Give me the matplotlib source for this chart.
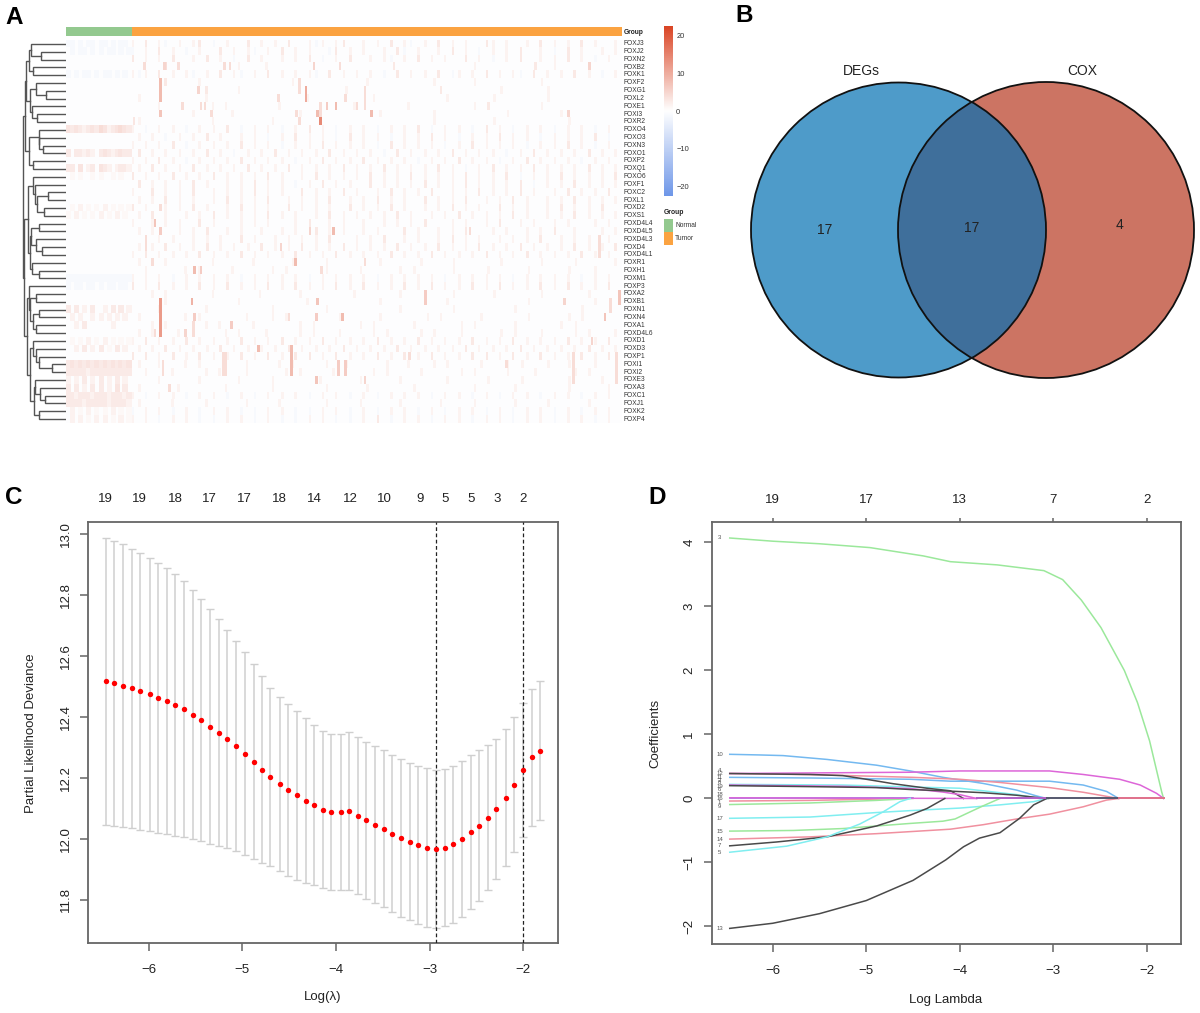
import numpy as np
import matplotlib
matplotlib.use('Agg')
import matplotlib.pyplot as plt
from matplotlib.colors import LinearSegmentedColormap
from matplotlib.patches import Circle, Rectangle

plt.rcParams['font.family'] = ['Liberation Sans', 'DejaVu Sans']

W, H = 1200, 1013

# ---- panel A data
genes = ['FOXJ3', 'FOXJ2', 'FOXN2', 'FOXB2', 'FOXK1', 'FOXF2', 'FOXG1', 'FOXL2', 'FOXE1', 'FOXI3',
         'FOXR2', 'FOXO4', 'FOXO3', 'FOXN3', 'FOXO1', 'FOXP2', 'FOXQ1', 'FOXO6', 'FOXF1', 'FOXC2',
         'FOXL1', 'FOXD2', 'FOXS1', 'FOXD4L4', 'FOXD4L5', 'FOXD4L3', 'FOXD4', 'FOXD4L1', 'FOXR1', 'FOXH1',
         'FOXM1', 'FOXP3', 'FOXA2', 'FOXB1', 'FOXN1', 'FOXN4', 'FOXA1', 'FOXD4L6', 'FOXD1', 'FOXD3',
         'FOXP1', 'FOXI1', 'FOXI2', 'FOXE3', 'FOXA3', 'FOXC1', 'FOXJ1', 'FOXK2', 'FOXP4']

# digit = shade of pink, b = pale blue, . = nothing
tumor_rows = [
    '1.2.1b.1.12.b.1..2.1.1.2..1b1.12..1.1.2.1b.1.2.1.1..21.1..1.2.1.1.2.1..1',
    'b.1.2.1.b.1..2.1.1b.1.2.1.1..b2.1.1..1.2b.1..1.2.1.b.1.1.2..1.b.2.1..1.1',
    '2.1.1.2..1.2.1.b.2.1..1.1.2.b.1.2..1.1b.1.2.1.1..2.1.b.1.2..1.1.2.1.b.1.',
    '.....3.3........1...1..........3.......2...........1........2..1....1....',
    '1b1.2.1.1b.1.2.1b.1.2.1.1.1b.2.1.1.1.b.2.1.1.2.b1.1.2.1.1b.2.1.1.2.1.b.1',
    '.....2....1.............1..........1.........1.....1.........1...........',
    '...........2....1...............1.............2........1......1..........',
    '.1.........1..............1.........1..........1......1.......1..........',
    '....1.......1.1.......1..........1.......1.........1.2.......1...........',
    '.........1.....1.........1...........1.......1..........1.......1........',
    '.1..........1........1.......................1........1..........1.......',
    '1.b.1.1.b.1.1.2.b.1.1.b.1.2.1.b.1.1.b.1.1.2.b.1.1.b.2.1.b.1.1.b.1.1.b.1.',
    '.1.1.b.1.1.2.1..1.1.b.1.2.1.1.b.2.1.1.b.1.1.2.1.b.1.1.2.1.1.b.1.1.1.2.b.',
    '1.1.1.2.b.1.1.1.2.1.1.b.1.1.2.1.1.1.b.2.1.1.1.b.1.2.1.1.1.b.1.1.2.1.b.1.',
    '.2.1.1.1.1.2.1.b.1.1.2.1.1.1.2.1.1.1.b.2.1.1.1.2.1.1.1.b.1.2.1.1.1.2.1.1',
    '1.1.2.1.b.1.1.1.2.1.1.1.b.1.2.1.1.2.1.1.1.b.1.1.2.1.1.b.1.2.1.1.1.b.1.1.',
    '.1.2.1.1.2.1.1.1.2.1.1.2.1.1.1.2.1.1.2.1.1.1.2.1.b.1.2.1.1.2.1.1.1.2.1.1',
    '2.1.1.2.1.1.2.1.1.1.2.1..1.2.1.1.1.2.1.1.2.1.1.1.2.1.1.2.b.1.1.2.1.1.1.2',
    '.2.1.1.1.2.1..1.1.2.1.1.b.1.2.1.1..2.1.1.1.2.1.1.2.1.1.1.2.b.1.1.2.1.1.1',
    '1..2.1.1.2..1.1.1.2.1.1..2.1.1.2.1..1.2.1.1.2..1.1.2.1.1.2.1..1.2.1.1.2.',
    '.1.1.2.1.1..1.2.1.1.2..1.1.1.2..1.1.2.1.1..2.1.1.2..1.1.2.1..1.1.2.1.1.1',
    '2.1..1.1.2.1..1.2.1.1..2.1.1.1..2.1.1.2.1..1.1.2.1.1..2.1.1..1.2.1.1.2..',
    '.1.2.1..1.1.2.1.1.1.2.1.1..1.2.1.1.1.1.2.1..1.1.2.1.1.1.2.1..1.1.2.1.1.1',
    '1..1.1.1..2.1...1.1.1...1.2..1.1..1..1.1.1.2...1.1..1.2..1.1..1.1...1.1.',
    '.1.1...1.1.2..1.1..1..1.1..2.1.1..1.1...2.1..1.1.2...1.1..1.1.2..1...1.1',
    '..2.1.1..1.1.1..2.1..1.1.1.1.2...1.1.2..1.1..1.2.1.1..1.1.1.2..1.1.1..1.',
    '.1.1.2.1.1.2.1.1.1.2.1.1.2.1.1.2.1.1.1.2.1.1.2.1.1.2.1.1.2.1.1.1.2.1.1.2',
    '1.2.1.1.1.2.1.1.2.1.1.1.2.1.1.2.1.1.1.2.1.1.2.1.1.1.2.1.1.2.1.1.1.2.1.1.',
    '.1...1......1.....1.....1....1.......1.....1....1......1.....1....1.....1',
    '..1.....1.1....1.....1.1.....1....1.....1.1.....1....1.....1.....1...1...',
    '1.1.1.b.1.1.1.1.b.1.1.1.1.b.1.1.1.1.b.1.1.1.1.b.1.1.1.1.b.1.1.1.1.b.1.1.',
    '2.1.2.1.1.2.1.2.1.1.2.1.2.1.1.2.1.2.1.1.2.1.2.1.1.2.1.2.1.1.2.1.2.1.1.2.',
    '...1.1......1......1.....1.......1......1.......1.....1......1......1....',
    '.....1..........1.........1..........1.........1...........1.........1...',
    '....1......1.........1.......1..........1.......1........1.........1.....',
    '.1......1.1......1...1.1.......1.....1......1.1.....1......1.....1.1.....',
    '...1.1.....1.1....1......1.1......1.1.....1......1.1.....1......1.1......',
    '.1.1...1.1....1.1...1....1.1...1....1.1....1.1...1.....1.1...1....1.1...1',
    '1.2.1.1.2.1.1.1.2.1.1.2.1.1.2.1.1.1.2.1.1.2.1.1.1.2.1.1.2.1.1.1.2.1.1.2.',
    '.1.1.2.1.1.1.2.1.1.1.1.2.1.1.1.2.1.1.1.2.1.1.1.1.2.1.1.1.2.1.1.1.1.2.1.1',
    '2.2.1.2.1.2.1.1.2.1.2.1.2.2.1.2.1.1.2.1.2.1.2.1.1.2.2.1.2.1.2.1.1.2.1.2.',
    '.1..1...1.1...1..1....1.1....1..1.....1..1...1.1....1...1.1...1..1...1...',
    '..1...1....1.1...1.....1.1....1.....1.1....1.....1.1....1...1.....1.1....',
    '....1.....1.....1....1......1.....1.....1......1.....1....1......1....1..',
    '.1.....1......1......1.......1.....1......1........1.....1.......1.....1.',
    '1.b.1.1.b.1.1.b.1.b.1.1.1.b.1.1.b.1.b.1.1.1.b.1.1.b.1.b.1.1.b.1.1.b.1.1.',
    '.1....1....1.....1....1......1....1.....1.....1....1.....1....1.....1....',
    'b.1.1.b.1.b.1.1.b.b.1.1.b.b.1.1.b.1.b.1.1.b.1.b.1.1.b.1.b.1.1.b.1.b.1.1.',
    '1.1.b.1.1.b.b.1.1.b.1.b.b.1.1.b.b.1.2.b.1.1.b.1.1.b.1.1.b.1.1.b.1.1.b.1.',
]

normal_rows = {
    0: 'bb.b.bb.bb.b.bb.', 1: '.b.bb.b.b.bb.b.b', 4: 'b.b.bb.b.bb.b.b.',
    11: '4343234354234543', 14: '3.33232.34323433', 16: '33.4.23.432.2332',
    17: '.1.1..1.1..1.1..', 21: '.1.2.1.1.2.1.1.1', 22: '1.2.1.1.2.1.2.1.',
    30: 'bbbbbbbbbbbbbbbb', 31: 'b.bb.bb.b.bb.bb.',
    34: '3.3.2.3..2.3.3.2', 35: '.2.2..2.2.2.2.2.', 36: '..2.3......2....',
    38: '.1.1.2.1.2.1.1.1', 39: '..2.3.2.3.1.3.2.',
    41: '3434343434343434', 42: '3333323333333333', 43: '2.2.3.2.3.2.3.2.',
    44: '3.3.2.3.3.2.4.3.', 45: '3323332333233323', 46: '3333233333233332',
    47: '.2.1.2.1.1.2.1.1', 48: '.2.2.1.2.2.1.2.1',
}

# first row, last row, sample, value
hot_streaks = [
    (3, 3, 59, 4), (3, 3, 74, 5), (3, 3, 120, 4), (3, 3, 124, 4), (3, 3, 188, 5), (3, 3, 398, 5),
    (5, 7, 71, 8), (6, 6, 100, 5), (5, 6, 177, 4), (6, 7, 182, 10), (7, 7, 161, 4), (7, 7, 212, 4),
    (6, 8, 227, 4), (8, 8, 88, 4), (8, 8, 102, 4), (8, 8, 105, 4), (8, 10, 193, 4), (8, 8, 198, 6),
    (8, 8, 205, 8), (8, 8, 221, 4), (9, 9, 71, 7), (9, 9, 110, 4), (9, 9, 175, 4), (9, 9, 191, 8),
    (9, 9, 232, 8), (10, 10, 193, 14), (10, 10, 51, 3), (10, 10, 177, 4), (9, 9, 382, 5),
    (21, 21, 71, 4), (23, 23, 67, 7), (24, 24, 71, 6), (24, 24, 185, 5), (24, 24, 203, 8),
    (25, 26, 60, 4), (26, 26, 163, 5), (28, 28, 174, 8), (28, 28, 65, 4), (28, 28, 227, 4),
    (29, 29, 97, 8), (29, 29, 102, 6), (29, 29, 194, 4), (33, 33, 95, 9), (33, 33, 191, 7),
    (33, 37, 71, 12), (35, 35, 97, 6), (35, 35, 169, 4), (35, 35, 190, 6), (35, 35, 210, 8),
    (36, 36, 125, 6), (36, 37, 96, 4), (37, 37, 67, 4), (37, 37, 90, 5), (39, 39, 146, 8),
    (39, 42, 171, 8), (41, 42, 207, 6), (41, 42, 212, 6), (40, 42, 121, 4), (40, 42, 119, 4),
    (41, 42, 73, 4), (43, 43, 190, 7), (43, 43, 227, 5), (44, 44, 78, 4),
    (32, 33, 421, 7), (33, 34, 414, 4), (35, 35, 410, 7), (33, 33, 379, 5), (40, 43, 386, 4),
    (40, 43, 419, 4), (38, 38, 400, 5), (25, 27, 406, 4), (32, 33, 273, 6), (41, 41, 335, 4),
    (24, 24, 307, 4), (40, 40, 261, 4),
]

# dendrogram merges: (height, left, right), ints are rows
tree_a = (40,
          (37, (35, 0, (25, 1, 2)), (33, 3, 4)),
          (36, (30, 5, (20, 6, 7)), (34, 8, (29, 9, 10))))
tree_b = (37, (27.5, 11, (26.5, 12, (23, 13, 14))), (33, 15, 16))
tree_c = (33, 17, (31, 18, (29, (18, 19, 20), (22, 21, 22))))
tree_d = (36,
          (35, (27.5, 23, 24), (30, 25, (24, 26, 27))),
          (34, 28, (26.7, 29, 30)))
tree_e = (37, 31, (36, (30, 32, 33), (33, (26.7, 34, 35), (30, 36, 37))))
tree_f = (36,
          (33, 38, (30, 39, (26.7, 40, (14, 41, 42)))),
          (32, (31, 43, (26, 44, (21, 45, 46))), (26.7, 47, 48)))
tree = (43.5,
        (41, tree_a, tree_b),
        (42, (38, tree_c, tree_d), (39, tree_e, tree_f)))

# ---- panel B data
venn_names = ['DEGs', 'COX']
venn_counts = [17, 17, 4]

# ---- panel C data
cv_log_lambda = [-6.46, -6.37, -6.27, -6.18, -6.09, -5.99, -5.90, -5.81, -5.72, -5.62,
                 -5.53, -5.44, -5.35, -5.25, -5.16, -5.07, -4.97, -4.88, -4.79, -4.70,
                 -4.60, -4.51, -4.42, -4.32, -4.23, -4.14, -4.05, -3.95, -3.86, -3.77,
                 -3.68, -3.58, -3.49, -3.40, -3.31, -3.21, -3.12, -3.03, -2.93, -2.84,
                 -2.75, -2.66, -2.56, -2.47, -2.38, -2.29, -2.19, -2.10, -2.00, -1.91, -1.82]
cv_mean = [12.516, 12.509, 12.502, 12.493, 12.483, 12.473, 12.462, 12.451, 12.438, 12.424,
           12.407, 12.388, 12.367, 12.348, 12.327, 12.303, 12.278, 12.252, 12.226, 12.203,
           12.180, 12.160, 12.142, 12.125, 12.110, 12.095, 12.088, 12.089, 12.091, 12.075,
           12.060, 12.046, 12.032, 12.016, 12.002, 11.990, 11.979, 11.970, 11.967, 11.970,
           11.983, 11.999, 12.021, 12.043, 12.069, 12.097, 12.134, 12.177, 12.224, 12.267, 12.288]
cv_upper = [12.987, 12.977, 12.965, 12.951, 12.937, 12.921, 12.905, 12.888, 12.867, 12.844,
            12.814, 12.784, 12.752, 12.719, 12.685, 12.648, 12.611, 12.572, 12.533, 12.494,
            12.466, 12.442, 12.418, 12.395, 12.372, 12.353, 12.342, 12.344, 12.350, 12.332,
            12.317, 12.303, 12.291, 12.275, 12.261, 12.249, 12.239, 12.231, 12.226, 12.229,
            12.239, 12.256, 12.273, 12.290, 12.307, 12.328, 12.359, 12.399, 12.446, 12.491, 12.518]
cv_lower = [12.045, 12.041, 12.039, 12.035, 12.029, 12.025, 12.019, 12.014, 12.009, 12.004,
            12.000, 11.992, 11.982, 11.977, 11.969, 11.958, 11.945, 11.932, 11.919, 11.912,
            11.894, 11.878, 11.866, 11.855, 11.848, 11.838, 11.833, 11.833, 11.833, 11.818,
            11.802, 11.788, 11.775, 11.759, 11.744, 11.732, 11.721, 11.711, 11.706, 11.713,
            11.725, 11.744, 11.768, 11.797, 11.832, 11.868, 11.911, 11.957, 12.005, 12.043, 12.061]
cv_top_pos = [-6.46, -6.10, -5.72, -5.35, -4.98, -4.61, -4.23, -3.85, -3.48, -3.10, -2.84, -2.56, -2.28, -2.00]
cv_top_lab = [19, 19, 18, 17, 17, 18, 14, 12, 10, 9, 5, 5, 3, 2]
lambda_min = -2.93
lambda_1se = -2.00

# ---- panel D data: (label, colour, log lambda, coefficient)
x_3 = [-6.46, -6.0, -5.5, -4.96, -4.39, -4.1, -3.6, -3.1, -2.9, -2.7, -2.49, -2.24, -2.1, -1.97, -1.84, -1.82]
y_3 = [4.07, 4.02, 3.98, 3.92, 3.79, 3.70, 3.65, 3.56, 3.42, 3.10, 2.67, 2.00, 1.50, 0.90, 0.10, 0.0]
x_10 = [-6.46, -6.14, -5.89, -5.42, -4.89, -4.53, -4.18, -3.75, -3.39, -3.18, -3.07]
y_10 = [0.69, 0.68, 0.67, 0.61, 0.52, 0.43, 0.33, 0.235, 0.13, 0.04, 0.0]
x_4 = [-6.46, -5.5, -4.53, -4.0, -3.57, -3.04, -2.68, -2.29, -2.07, -1.895, -1.82]
y_4 = [0.39, 0.40, 0.41, 0.43, 0.43, 0.43, 0.375, 0.30, 0.21, 0.08, 0.0]
x_12 = [-6.46, -5.5, -4.5, -4.0, -3.57, -3.04, -2.68, -2.3]
y_12 = [0.39, 0.37, 0.33, 0.30, 0.25, 0.17, 0.097, 0.0]
x_2 = [-6.46, -5.6, -4.53, -4.1, -3.57, -3.04, -2.68, -2.43, -2.3]
y_2 = [0.33, 0.32, 0.30, 0.27, 0.27, 0.27, 0.21, 0.11, 0.0]
x_11 = [-6.46, -5.6, -5.25, -5.0, -4.71, -4.35, -4.1, -3.96]
y_11 = [0.39, 0.375, 0.357, 0.30, 0.23, 0.16, 0.12, 0.0]
x_19 = [-6.46, -5.25, -4.53, -4.18, -4.0, -3.82]
y_19 = [0.21, 0.19, 0.155, 0.10, 0.06, 0.0]
x_6 = [-6.46, -5.6, -4.89, -4.53, -4.18, -3.75, -3.39, -3.14, -3.05]
y_6 = [0.20, 0.185, 0.17, 0.14, 0.12, 0.09, 0.05, 0.01, 0.0]
x_8 = [-6.46, -5.25, -4.53, -4.0, -3.75, -3.39, -3.14]
y_8 = [0.22, 0.21, 0.18, 0.16, 0.12, 0.06, 0.0]
x_18 = [-6.46, -3.82]
y_18 = [0.01, 0.0]
x_16 = [-6.46, -4.5]
y_16 = [0.0, 0.0]
x_1 = [-6.46, -5.6, -4.89, -4.71]
y_1 = [-0.04, -0.03, -0.01, 0.0]
x_9 = [-6.46, -5.6, -4.89, -4.57, -4.5]
y_9 = [-0.095, -0.07, -0.03, -0.005, 0.0]
x_17 = [-6.46, -5.6, -4.89, -4.53, -4.0, -3.57, -3.21, -3.07]
y_17 = [-0.31, -0.29, -0.22, -0.19, -0.15, -0.10, -0.05, 0.0]
x_15 = [-6.46, -5.78, -5.25, -4.53, -4.18, -4.05, -3.89, -3.75, -3.57]
y_15 = [-0.51, -0.50, -0.47, -0.39, -0.355, -0.32, -0.21, -0.115, 0.0]
x_14 = [-6.46, -5.6, -4.89, -4.1, -3.75, -3.39, -3.04, -2.68, -2.43, -2.3]
y_14 = [-0.635, -0.60, -0.55, -0.48, -0.41, -0.32, -0.245, -0.13, -0.025, 0.0]
x_7 = [-6.46, -5.96, -5.42, -4.89, -4.53, -4.35, -4.16]
y_7 = [-0.74, -0.68, -0.60, -0.43, -0.26, -0.156, 0.0]
x_5 = [-6.46, -5.85, -5.42, -5.07, -4.82, -4.64, -4.53]
y_5 = [-0.84, -0.745, -0.60, -0.40, -0.21, -0.05, 0.0]
x_13 = [-6.46, -6.0, -5.5, -5.0, -4.5, -4.15, -3.96, -3.79, -3.57, -3.36, -3.21, -3.07]
y_13 = [-2.03, -1.95, -1.80, -1.595, -1.28, -0.96, -0.755, -0.62, -0.535, -0.31, -0.10, 0.0]

GREEN, BLUE, MAGENTA, SALMON, CYAN, DARK = '#9be89b', '#74b9f0', '#dd66d8', '#f0909f', '#80eef0', '#4a4a4a'
coef_lines = [
    ('3', GREEN, x_3, y_3), ('10', BLUE, x_10, y_10), ('2', BLUE, x_2, y_2), ('8', CYAN, x_8, y_8),
    ('12', SALMON, x_12, y_12), ('4', MAGENTA, x_4, y_4), ('11', DARK, x_11, y_11), ('19', MAGENTA, x_19, y_19),
    ('6', DARK, x_6, y_6), ('1', SALMON, x_1, y_1), ('9', GREEN, x_9, y_9), ('16', '#7a6fe0', x_16, y_16),
    ('18', MAGENTA, x_18, y_18), ('17', CYAN, x_17, y_17), ('15', GREEN, x_15, y_15), ('14', SALMON, x_14, y_14),
    ('7', DARK, x_7, y_7), ('5', CYAN, x_5, y_5), ('13', DARK, x_13, y_13),
]
# where the small path numbers sit, spread a little so they stay readable
label_y = {'4': 0.44, '12': 0.385, '11': 0.33, '2': 0.275, '8': 0.245, '19': 0.19, '6': 0.135,
           '18': 0.055, '16': -0.005, '1': -0.065, '9': -0.125}
zero_edges = [-3.82, -3.07, -2.30, -1.82]
zero_colors = ['#b060c8', '#55586e', '#e0708a']
coef_top = [19, 17, 13, 7, 2]

AXC = '#666666'
TXT = '#222222'


def px_axes(left, top, right, bottom):
    return fig.add_axes([left / W, 1 - bottom / H, (right - left) / W, (bottom - top) / H])


def px_text(x, y, s, **kw):
    kw.setdefault('ha', 'left')
    kw.setdefault('va', 'center')
    kw.setdefault('color', TXT)
    fig.text(x / W, 1 - y / H, s, **kw)


def draw_tree(ax, node):
    # returns row position of the node, draws its brackets
    if not isinstance(node, tuple):
        return node, 0
    h, a, b = node
    ya, ha = draw_tree(ax, a)
    yb, hb = draw_tree(ax, b)
    ax.plot([ha, h, h, hb], [ya, ya, yb, yb], color='#555555', lw=1.0, solid_joinstyle='miter')
    return (ya + yb) / 2, h


def style_box(ax):
    for s in ax.spines.values():
        s.set_color(AXC)
        s.set_linewidth(1.3)
    ax.tick_params(axis='x', length=5.8, width=1.1, color=AXC, pad=9.5, labelsize=9.5, labelcolor=TXT)
    ax.tick_params(axis='y', length=5.8, width=1.1, color=AXC, pad=6, labelsize=9.5, labelcolor=TXT)
    for lab in ax.get_yticklabels():
        lab.set_rotation(90)
        lab.set_va('center')


fig = plt.figure(figsize=(W / 100, H / 100), dpi=100)

# ---- A: heatmap
n_normal, n_tumor = 50, 374
heat = np.full((len(genes), n_normal + n_tumor), -0.35)
shade = {'.': None, 'b': -1.2}
for r, s in enumerate(tumor_rows):
    for i, ch in enumerate(s):
        v = shade[ch] if ch in shade else float(ch) * 1.3
        if v is not None:
            c = n_normal + int(i * n_tumor / len(s))
            heat[r, c:c + 2] = v
for r, s in normal_rows.items():
    for i, ch in enumerate(s):
        v = shade[ch] if ch in shade else float(ch) * 0.8
        if v is not None:
            c = int(i * n_normal / len(s))
            heat[r, c:c + 4] = v
for r0, r1, c, v in hot_streaks:
    heat[r0:r1 + 1, c:c + 2] = v

heat_cmap = LinearSegmentedColormap.from_list('heat', ['#6c95e8', '#ffffff', '#d9401f'])
ax_heat = px_axes(66, 40, 622, 423)
ax_heat.imshow(heat, aspect='auto', cmap=heat_cmap, vmin=-23, vmax=23, interpolation='nearest')
ax_heat.axis('off')

ax_ann = px_axes(66, 27, 622, 36)
ax_ann.set_xlim(0, n_normal + n_tumor)
ax_ann.set_ylim(0, 1)
ax_ann.add_patch(Rectangle((0, 0), n_normal, 1, color='#93c98f', lw=0))
ax_ann.add_patch(Rectangle((n_normal, 0), n_tumor, 1, color='#fba341', lw=0))
ax_ann.axis('off')

ax_tree = px_axes(20, 40, 66, 423)
ax_tree.set_xlim(46, 0)
ax_tree.set_ylim(len(genes) - 0.5, -0.5)
draw_tree(ax_tree, tree)
ax_tree.axis('off')

for r, g in enumerate(genes):
    px_text(624, 43.7 + 7.82 * r, g, fontsize=4.8, color='#333333')
px_text(624, 32, 'Group', fontsize=4.8, fontweight='bold')

ax_cb = px_axes(664, 26, 672, 196)
ax_cb.imshow(np.linspace(22.6, -22.5, 170).reshape(-1, 1), aspect='auto', cmap=heat_cmap, vmin=-23, vmax=23,
             extent=[0, 1, -22.5, 22.6])
ax_cb.set_xticks([])
ax_cb.yaxis.tick_right()
ax_cb.set_yticks([20, 10, 0, -10, -20])
ax_cb.tick_params(axis='y', length=0, pad=3, labelsize=5.4, labelcolor='#333333')
for s in ax_cb.spines.values():
    s.set_visible(False)

px_text(664, 212, 'Group', fontsize=4.9, fontweight='bold')
ax_leg = px_axes(664, 219, 673, 245)
ax_leg.set_xlim(0, 1)
ax_leg.set_ylim(2, 0)
ax_leg.add_patch(Rectangle((0, 0), 1, 1, color='#93c98f', lw=0))
ax_leg.add_patch(Rectangle((0, 1), 1, 1, color='#fba341', lw=0))
ax_leg.axis('off')
px_text(675, 225.5, 'Normal', fontsize=4.8, color='#333333')
px_text(675, 238, 'Tumor', fontsize=4.8, color='#333333')

# ---- B: venn
ax_v = px_axes(740, 70, 1200, 390)
ax_v.set_xlim(740, 1200)
ax_v.set_ylim(390, 70)
ax_v.axis('off')
left_c = Circle((898.5, 230), 147.5, fc='#4e9bc9', ec='none')
right_c = Circle((1046, 230), 148, fc='#cc7463', ec='none')
ax_v.add_patch(left_c)
ax_v.add_patch(right_c)
both = Circle((1046, 230), 148, fc='#3f6f9b', ec='none')
ax_v.add_patch(both)
both.set_clip_path(left_c)
ax_v.add_patch(Circle((898.5, 230), 147.5, fc='none', ec='#111111', lw=1.3))
ax_v.add_patch(Circle((1046, 230), 148, fc='none', ec='#111111', lw=1.3))
px_text(861, 71, venn_names[0], fontsize=10, ha='center')
px_text(1082, 71, venn_names[1], fontsize=10, ha='center')
px_text(825, 230, str(venn_counts[0]), fontsize=10, ha='center')
px_text(972, 228, str(venn_counts[1]), fontsize=10, ha='center')
px_text(1119, 225, str(venn_counts[2]), fontsize=10, ha='center')

# ---- C: cv curve
ax_c = px_axes(88.3, 522, 558, 943)
cv_x = np.array(cv_log_lambda)
cv_y = np.array(cv_mean)
ax_c.errorbar(cv_x, cv_y, yerr=[cv_y - np.array(cv_lower), np.array(cv_upper) - cv_y], fmt='none',
              ecolor='#cfcfcf', elinewidth=1.1, capsize=3.1, capthick=1.0, zorder=2)
ax_c.axvline(lambda_min, color='#222222', lw=0.9, ls=(0, (3, 2)), zorder=3)
ax_c.axvline(lambda_1se, color='#222222', lw=0.9, ls=(0, (3, 2)), zorder=3)
ax_c.scatter(cv_x, cv_y, s=15, color='#ff0000', lw=0, zorder=4)
ax_c.set_xlim(-6.645, -1.63)
ax_c.set_ylim(11.658, 13.038)
ax_c.set_xticks([-6, -5, -4, -3, -2])
ax_c.set_yticks([11.8, 12.0, 12.2, 12.4, 12.6, 12.8, 13.0])
ax_c.set_yticklabels(['11.8', '12.0', '12.2', '12.4', '12.6', '12.8', '13.0'])
style_box(ax_c)
top_c = ax_c.twiny()
top_c.set_xlim(ax_c.get_xlim())
top_c.set_xticks(cv_top_pos)
top_c.set_xticklabels([str(v) for v in cv_top_lab])
top_c.tick_params(axis='x', length=0, pad=12, labelsize=9.5, labelcolor=TXT)
for s in top_c.spines.values():
    s.set_visible(False)
px_text(323, 997, 'Log(\u03bb)', fontsize=9.5, ha='center')
px_text(31, 733, 'Partial Likelihood Deviance', fontsize=9.5, ha='center', rotation=90)

# ---- D: coefficient paths
ax_d = px_axes(711.7, 522, 1181, 944)
for lab, col, xs, ys in coef_lines:
    ax_d.plot(xs, ys, color=col, lw=1.1, solid_joinstyle='round', zorder=2)
for i, col in enumerate(zero_colors):
    ax_d.plot(zero_edges[i:i + 2], [0, 0], color=col, lw=1.4, zorder=3)
for lab, col, xs, ys in coef_lines:
    ax_d.text(-6.57, label_y.get(lab, ys[0]), lab, fontsize=4.3, color='#555555', ha='center', va='center')
ax_d.set_xlim(-6.653, -1.634)
ax_d.set_ylim(-2.274, 4.32)
ax_d.set_xticks([-6, -5, -4, -3, -2])
ax_d.set_yticks([-2, -1, 0, 1, 2, 3, 4])
style_box(ax_d)
top_d = ax_d.twiny()
top_d.set_xlim(ax_d.get_xlim())
top_d.set_xticks([-6, -5, -4, -3, -2])
top_d.set_xticklabels([str(v) for v in coef_top])
top_d.tick_params(axis='x', length=2.8, width=1.1, color=AXC, pad=9, labelsize=9.5, labelcolor=TXT)
for s in top_d.spines.values():
    s.set_visible(False)
px_text(946, 1000, 'Log Lambda', fontsize=9.5, ha='center')
px_text(655, 733, 'Coefficients', fontsize=9.5, ha='center', rotation=90)

# ---- panel letters
for lab, x, y in [('A', 5, 18), ('B', 735, 15), ('C', 5, 497), ('D', 648, 497)]:
    px_text(x, y, lab, fontsize=17.5, fontweight='bold', color='black')

fig.savefig('out.png', dpi=100)
